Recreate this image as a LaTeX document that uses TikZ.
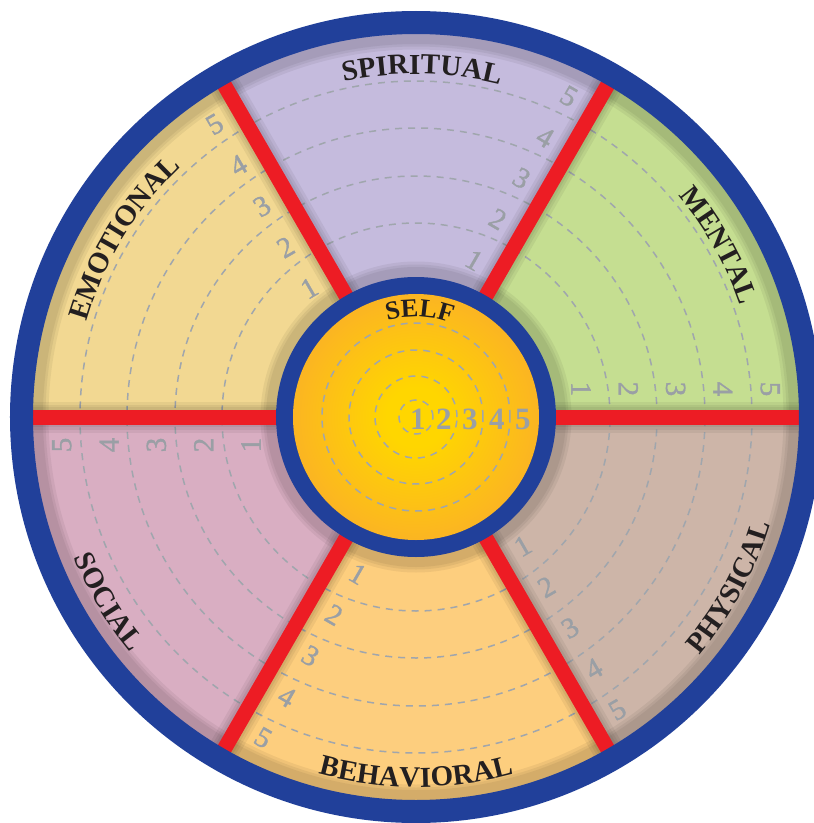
\documentclass[tikz,border=0pt]{standalone}
\usepackage{fontspec}
\setmainfont{Liberation Serif}
\newfontfamily\numfont[FakeBold=1.3]{Liberation Serif}
\usetikzlibrary{decorations.text}
\definecolor{ringblue}{HTML}{21409A}
\definecolor{spokered}{HTML}{ED1C24}
\definecolor{cSpiritual}{HTML}{C5BBDD}
\definecolor{cMental}{HTML}{C5DE91}
\definecolor{cEmotional}{HTML}{F2D892}
\definecolor{cSocial}{HTML}{D9AEC2}
\definecolor{cBehavioral}{HTML}{FDCE7E}
\definecolor{cPhysical}{HTML}{CDB5A8}
\definecolor{numgray}{HTML}{9A9FA5}
\definecolor{dashgray}{HTML}{A0A6AD}
\definecolor{lblk}{HTML}{231F20}
\definecolor{sunY}{HTML}{FFD600}
\definecolor{sunM}{HTML}{FBB324}
\definecolor{sunO}{HTML}{F3902F}
\pgfdeclareradialshading{sunshade}{\pgfpoint{0bp}{0bp}}{color(0bp)=(sunY); color(6bp)=(sunY); color(26bp)=(sunM); color(50bp)=(sunO)}
\newcommand\lblfont{\color{lblk}\bfseries\fontsize{29}{30}\selectfont}
\newcommand\selffont{\color{lblk}\bfseries\fontsize{26}{27}\selectfont}
\tikzset{
  num/.style={text=numgray, font=\numfont\fontsize{29}{29}\selectfont, inner sep=0pt},
  cnum/.style={text=numgray, font=\bfseries\fontsize{31}{31}\selectfont, inner sep=0pt},
  dashring/.style={draw=dashgray, line width=1.5pt, dash pattern=on 7pt off 6pt},
  spoke/.style={draw=spokered, line width=15pt},
  halo/.style={draw=black, opacity=0.055},
}
\begin{document}
\begin{tikzpicture}[x=1pt,y=1pt]
\useasboundingbox (-416,-406) rectangle (398,417);
\fill[white] (-416,-406) rectangle (398,417);
% sectors
\foreach \a/\c in {0/cMental,60/cSpiritual,120/cEmotional,180/cSocial,240/cBehavioral,300/cPhysical}{
  \pgfmathsetmacro\b{\a+60}
  \fill[\c] (0,0) -- (\a:384) arc[start angle=\a, end angle=\b, radius=384] -- cycle;
}
% dashed level rings
\foreach \r in {194,241,289,336}{
  \draw[dashring] (0,0) circle[radius=\r];
}
% level numbers
\foreach \th/\rot in {0/-90,60/-30,120/30,180/90,240/-30,300/30}{
  \foreach \k in {1,...,5}{
    \pgfmathsetmacro\dd{165+47.3*(\k-1)}
    \pgfmathsetmacro\pa{\th+90}
    \path (\th:\dd) ++(\pa:28) node[num, rotate=\rot] (n\th-\k) {\k};
  }
}
% soft shadows
\foreach \w in {31,25,20}{
  \foreach \a in {0,60,...,300}{
    \draw[halo, line width=\w pt] (\a:140) -- (\a:383);
  }
  \draw[halo, line width=\w pt] (0,0) circle[radius=383];
  \draw[halo, line width=\w pt] (0,0) circle[radius=140];
}
% red spokes
\foreach \a in {0,60,...,300}{
  \draw[spoke] (\a:138) -- (\a:386);
}
% outer ring
\draw[ringblue, line width=23pt] (0,0) circle[radius=394.5];
% centre
\fill[ringblue] (0,0) circle[radius=140];
\shade[shading=sunshade] (0,0) circle[radius=123];
\foreach \r in {17,41,67,94}{
  \draw[dashring] (0,0) circle[radius=\r];
}
\foreach \k/\xx in {1/2,2/28,3/54,4/81,5/107}{
  \node[cnum] (c\k) at (\xx,-2) {\k};
}
\path[decorate, decoration={text along path, text={|\selffont|SELF}, text align=center}]
  (118:100) arc[start angle=118, end angle=58, radius=100];
% sector labels (top half)
\path[decorate, decoration={text along path, text={|\lblfont|SPIRITUAL}, text align=center}]
  (119:343) arc[start angle=119, end angle=59, radius=343];
\path[decorate, decoration={text along path, text={|\lblfont|MENTAL}, text align=center}]
  (59.5:343) arc[start angle=59.5, end angle=-0.5, radius=343];
\path[decorate, decoration={text along path, text={|\lblfont|EMOTIONAL}, text align=center}]
  (178.5:343) arc[start angle=178.5, end angle=118.5, radius=343];
% sector labels (bottom half)
\path[decorate, decoration={text along path, text={|\lblfont|SOCIAL}, text align=center}]
  (181:370) arc[start angle=181, end angle=241, radius=370];
\path[decorate, decoration={text along path, text={|\lblfont|BEHAVIORAL}, text align=center}]
  (240:370) arc[start angle=240, end angle=300, radius=370];
\path[decorate, decoration={text along path, text={|\lblfont|PHYSICAL}, text align=center}]
  (301.5:370) arc[start angle=301.5, end angle=361.5, radius=370];
\end{tikzpicture}
\end{document}
